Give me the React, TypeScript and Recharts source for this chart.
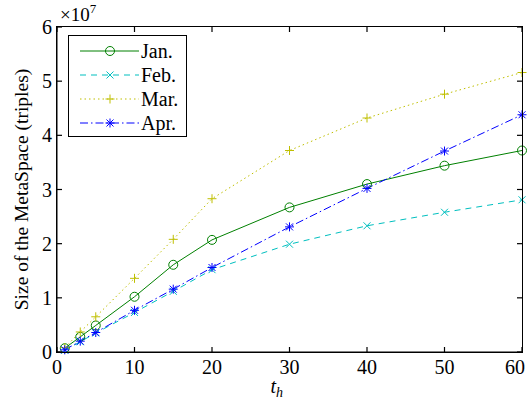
import * as React from 'react';
import {
  LineChart,
  Line,
  XAxis,
  YAxis,
  Legend,
} from 'recharts';

const hours = [1, 3, 5, 10, 15, 20, 30, 40, 50, 60];
const jan = [0.07, 0.28, 0.49, 1.02, 1.61, 2.07, 2.67, 3.1, 3.44, 3.72];
const feb = [0.03, 0.19, 0.35, 0.73, 1.12, 1.52, 1.99, 2.33, 2.58, 2.81];
const mar = [0.08, 0.37, 0.65, 1.36, 2.08, 2.83, 3.72, 4.32, 4.76, 5.16];
const apr = [0.04, 0.2, 0.36, 0.77, 1.16, 1.56, 2.31, 3.02, 3.71, 4.38];
const xTicks = [0, 10, 20, 30, 40, 50, 60];
const yTicks = [0, 1, 2, 3, 4, 5, 6];

const SCALE = 1e7;
const FONT = '"Liberation Serif", "Times New Roman", serif';

// chart box
const W = 530;
const H = 404;
const MARGIN = { top: 27, right: 8, bottom: 22, left: 0 };
const Y_AXIS_W = 57;
const X_AXIS_H = 30;
const PLOT_X = MARGIN.left + Y_AXIS_W;
const PLOT_Y = MARGIN.top;
const PLOT_W = W - MARGIN.left - MARGIN.right - Y_AXIS_W;
const PLOT_H = H - MARGIN.top - MARGIN.bottom - X_AXIS_H;
const X_MAX = xTicks[xTicks.length - 1];
const Y_MAX = yTicks[yTicks.length - 1];

const data = hours.map((h, i) => ({
  h,
  jan: jan[i] * SCALE,
  feb: feb[i] * SCALE,
  mar: mar[i] * SCALE,
  apr: apr[i] * SCALE,
}));

type Marker = 'circle' | 'x' | 'plus' | 'star';

interface SeriesConfig {
  key: string;
  label: string;
  color: string;
  dash?: string;
  marker: Marker;
}

const series: SeriesConfig[] = [
  { key: 'jan', label: 'Jan.', color: '#008000', marker: 'circle' },
  { key: 'feb', label: 'Feb.', color: '#00bfbf', dash: '6 5', marker: 'x' },
  { key: 'mar', label: 'Mar.', color: '#bfbf00', dash: '1.5 3', marker: 'plus' },
  { key: 'apr', label: 'Apr.', color: '#0000ff', dash: '8 3 1.5 3', marker: 'star' },
];

function MarkerShape({ cx, cy, color, marker }: { cx: number; cy: number; color: string; marker: Marker }) {
  if (cx == null || cy == null) return null;
  const s = 4;
  if (marker === 'circle') {
    return <circle cx={cx} cy={cy} r={4.5} fill="none" stroke={color} strokeWidth={1} />;
  }
  const plus = (
    <>
      <line x1={cx - s - 0.5} y1={cy} x2={cx + s + 0.5} y2={cy} stroke={color} strokeWidth={1} />
      <line x1={cx} y1={cy - s - 0.5} x2={cx} y2={cy + s + 0.5} stroke={color} strokeWidth={1} />
    </>
  );
  const cross = (
    <>
      <line x1={cx - 3.5} y1={cy - 3.5} x2={cx + 3.5} y2={cy + 3.5} stroke={color} strokeWidth={1} />
      <line x1={cx - 3.5} y1={cy + 3.5} x2={cx + 3.5} y2={cy - 3.5} stroke={color} strokeWidth={1} />
    </>
  );
  return (
    <g>
      {(marker === 'plus' || marker === 'star') && plus}
      {(marker === 'x' || marker === 'star') && cross}
    </g>
  );
}

function BottomTick(props: any) {
  const { x, y, payload, index } = props;
  const last = index === xTicks.length - 1;
  return (
    <text x={last ? x - 7 : x} y={y + 22} textAnchor="middle" fontFamily={FONT} fontSize={20} fill="#000" stroke="none">
      {payload.value}
    </text>
  );
}

function LeftTick(props: any) {
  const { x, y, payload, index } = props;
  const last = index === yTicks.length - 1;
  return (
    <g>
      <text x={x - 5} y={y + 7} textAnchor="end" fontFamily={FONT} fontSize={20} fill="#000" stroke="none">
        {payload.value / SCALE}
      </text>
      {last && (
        <text x={x + 3} y={y - 6} fontFamily={FONT} fontSize={19} fill="#000" stroke="none">
          ×10
          <tspan fontSize={13} dy={-8}>7</tspan>
        </text>
      )}
    </g>
  );
}

// box around the plot with inward ticks on all four sides
function Frame() {
  const tx = (v: number) => PLOT_X + (v / X_MAX) * PLOT_W;
  const ty = (v: number) => PLOT_Y + PLOT_H - (v / Y_MAX) * PLOT_H;
  const bottom = PLOT_Y + PLOT_H;
  const right = PLOT_X + PLOT_W;
  return (
    <>
      <div
        style={{
          position: 'absolute',
          left: PLOT_X - 1,
          top: PLOT_Y - 1,
          width: PLOT_W + 2,
          height: PLOT_H + 2,
          border: '1.5px solid #000',
          boxSizing: 'border-box',
          pointerEvents: 'none',
        }}
      />
      <svg
        width={W}
        height={H}
        style={{ position: 'absolute', left: 0, top: 0, pointerEvents: 'none' }}
      >
        {xTicks.map((t) => (
          <g key={`fx-${t}`}>
            <line x1={tx(t)} y1={bottom} x2={tx(t)} y2={bottom - 5} stroke="#000" strokeWidth={1.2} />
            <line x1={tx(t)} y1={PLOT_Y} x2={tx(t)} y2={PLOT_Y + 5} stroke="#000" strokeWidth={1.2} />
          </g>
        ))}
        {yTicks.map((t) => (
          <g key={`fy-${t}`}>
            <line x1={PLOT_X} y1={ty(t)} x2={PLOT_X + 5} y2={ty(t)} stroke="#000" strokeWidth={1.2} />
            <line x1={right} y1={ty(t)} x2={right - 5} y2={ty(t)} stroke="#000" strokeWidth={1.2} />
          </g>
        ))}
      </svg>
    </>
  );
}

function LegendBox() {
  return (
    <div
      style={{
        border: '1px solid #000',
        background: '#fff',
        width: 119,
        height: 102,
        boxSizing: 'border-box',
        padding: '3px 0 0 0',
      }}
    >
      {series.map((s) => (
        <div key={s.key} style={{ display: 'flex', alignItems: 'center', height: 24 }}>
          <svg width={72} height={20} style={{ display: 'block', flex: 'none' }}>
            <line x1={11} y1={10} x2={70} y2={10} stroke={s.color} strokeDasharray={s.dash} />
            <MarkerShape cx={41} cy={10} color={s.color} marker={s.marker} />
          </svg>
          <span style={{ fontFamily: FONT, fontSize: 20, color: '#000', lineHeight: '20px' }}>{s.label}</span>
        </div>
      ))}
    </div>
  );
}

export default function App() {
  return (
    <div style={{ position: 'absolute', left: 0, top: 0, width: W, height: H, background: '#fff' }}>
      <LineChart width={W} height={H} data={data} margin={MARGIN}>
        <XAxis
          dataKey="h"
          type="number"
          domain={[0, X_MAX]}
          ticks={xTicks}
          tickSize={0}
          tickMargin={0}
          tickLine={false}
          tick={<BottomTick />}
          height={X_AXIS_H}
          interval={0}
          axisLine={{ stroke: '#000' }}
          label={({ viewBox }: any) => (
            <text x={viewBox.x + viewBox.width / 2 - 19} y={viewBox.y + 41} fontFamily={FONT} fontSize={20} fill="#000">
              <tspan fontStyle="italic">t</tspan>
              <tspan fontStyle="italic" fontSize={14} dy={4}>h</tspan>
            </text>
          )}
        />
        <YAxis
          type="number"
          domain={[0, Y_MAX * SCALE]}
          ticks={yTicks.map((t) => t * SCALE)}
          tickSize={0}
          tickMargin={0}
          tickLine={false}
          tick={<LeftTick />}
          width={Y_AXIS_W}
          interval={0}
          axisLine={{ stroke: '#000' }}
          label={({ viewBox }: any) => (
            <text
              x={0}
              y={0}
              transform={`translate(28, ${viewBox.y + viewBox.height / 2}) rotate(-90)`}
              textAnchor="middle"
              fontFamily={FONT}
              fontSize={19.5}
              fill="#000"
            >
              Size of the MetaSpace (triples)
            </text>
          )}
        />
        <Legend
          layout="horizontal"
          verticalAlign="middle"
          align="center"
          wrapperStyle={{ left: 68, top: 35, width: 'auto', height: 'auto' }}
          content={() => <LegendBox />}
        />
        {series.map((s) => (
          <Line
            key={s.key}
            type="linear"
            dataKey={s.key}
            name={s.label}
            stroke={s.color}
            strokeWidth={1}
            strokeDasharray={s.dash}
            dot={(p: any) => <MarkerShape key={`${s.key}-${p.index}`} cx={p.cx} cy={p.cy} color={s.color} marker={s.marker} />}
            activeDot={false}
            isAnimationActive={false}
          />
        ))}
      </LineChart>
      <Frame />
    </div>
  );
}
